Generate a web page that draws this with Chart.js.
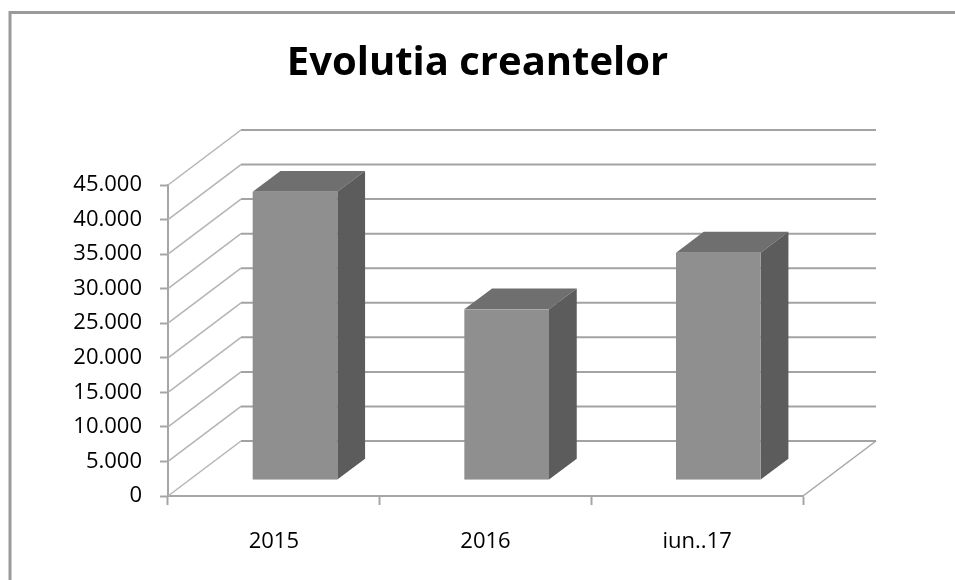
<!DOCTYPE html>
<html>
<head>
<meta charset="utf-8">
<script src="https://cdn.jsdelivr.net/npm/chart.js@4/dist/chart.umd.min.js"></script>
<style>
  html, body { margin: 0; padding: 0; background: #fff; }
  #bar-chart { display: block; }
</style>
</head>
<body>
<canvas id="bar-chart" width="955" height="580"></canvas>
<script>
var categories = ["2015", "2016", "iun..17"];
var creante = [41700, 24700, 32900];
var yTicks = [0, 5000, 10000, 15000, 20000, 25000, 30000, 35000, 40000, 45000];

var chartCanvas, barChart, chartData, chartOptions;

// depth of the 3D box (back wall offset) and where the bars sit inside it
var depth = { dx: 73, dy: -55 };
var barFront = 0.29, barBack = 0.67;

function formatNumber(v) {
  return String(v).replace(/\B(?=(\d{3})+(?!\d))/g, ".");
}

var box3d = {
  id: "box3d",
  beforeDraw: function(chart) {
    var ctx = chart.ctx;
    ctx.save();
    ctx.fillStyle = "#fff";
    ctx.fillRect(0, 0, chart.width, chart.height);
    // outer frame, only left and top visible
    ctx.strokeStyle = "#9a9a9a";
    ctx.lineWidth = 3;
    ctx.beginPath();
    ctx.moveTo(10, 580);
    ctx.lineTo(10, 12.5);
    ctx.lineTo(955, 12.5);
    ctx.stroke();
    ctx.restore();
  },
  beforeDatasetsDraw: function(chart) {
    var ctx = chart.ctx;
    var y = chart.scales.y, x = chart.scales.x;
    var left = x.left, right = x.right;
    var y0 = y.getPixelForValue(0);
    ctx.save();

    // side wall diagonals
    ctx.strokeStyle = "#b4b4b4";
    ctx.lineWidth = 1.5;
    yTicks.forEach(function(v) {
      var py = y.getPixelForValue(v);
      ctx.beginPath();
      ctx.moveTo(left, py);
      ctx.lineTo(left + depth.dx, py + depth.dy);
      ctx.stroke();
    });

    // back wall gridlines
    ctx.strokeStyle = "#a3a3a3";
    ctx.lineWidth = 2;
    yTicks.forEach(function(v) {
      var py = y.getPixelForValue(v) + depth.dy;
      ctx.beginPath();
      ctx.moveTo(left + depth.dx, py);
      ctx.lineTo(right + depth.dx, py);
      ctx.stroke();
    });

    // floor right edge
    ctx.strokeStyle = "#a6a6a6";
    ctx.lineWidth = 1.5;
    ctx.beginPath();
    ctx.moveTo(right, y0);
    ctx.lineTo(right + depth.dx, y0 + depth.dy);
    ctx.stroke();

    // bars as boxes
    var meta = chart.getDatasetMeta(0);
    meta.data.forEach(function(el) {
      var w = el.width;
      var fx = depth.dx * barFront, fy = depth.dy * barFront;
      var bx = depth.dx * barBack, by = depth.dy * barBack;
      var x1 = el.x - w / 2 + fx, x2 = el.x + w / 2 + fx;
      var top = el.y + fy, bot = el.base + fy;
      var ddx = bx - fx, ddy = by - fy;

      // top face
      ctx.fillStyle = "#6f6f6f";
      ctx.beginPath();
      ctx.moveTo(x1, top);
      ctx.lineTo(x1 + ddx, top + ddy);
      ctx.lineTo(x2 + ddx, top + ddy);
      ctx.lineTo(x2, top);
      ctx.closePath();
      ctx.fill();

      // side face
      ctx.fillStyle = "#5c5c5c";
      ctx.beginPath();
      ctx.moveTo(x2, top);
      ctx.lineTo(x2 + ddx, top + ddy);
      ctx.lineTo(x2 + ddx, bot + ddy);
      ctx.lineTo(x2, bot);
      ctx.closePath();
      ctx.fill();

      // front face
      ctx.fillStyle = "#8f8f8f";
      ctx.fillRect(x1, top, w, bot - top);
    });
    ctx.restore();
  }
};

chartData = {
  labels: categories,
  datasets: [{
    label: "Evolutia creantelor",
    data: creante,
    backgroundColor: "rgba(0,0,0,0)",
    borderWidth: 0,
    barPercentage: 0.4,
    categoryPercentage: 1.0
  }]
};

chartOptions = {
  responsive: false,
  animation: false,
  layout: { padding: 0 },
  plugins: {
    legend: { display: false },
    tooltip: { enabled: false },
    title: {
      display: true,
      text: "Evolutia creantelor",
      color: "#000",
      font: { family: "'Open Sans'", size: 40, weight: "bold", lineHeight: 1.2 },
      padding: { top: 40, bottom: 97 }
    }
  },
  scales: {
    x: {
      offset: true,
      grid: {
        offset: true,
        drawOnChartArea: false,
        tickLength: 9,
        tickColor: "#a6a6a6",
        tickWidth: 2
      },
      border: { display: true, color: "#a6a6a6", width: 2 },
      ticks: {
        color: "#000",
        font: { family: "'Open Sans'", size: 22 },
        padding: 24
      },
      afterFit: function(scale) { scale.height = 84; }
    },
    y: {
      min: 0,
      max: 45000,
      afterBuildTicks: function(scale) {
        scale.ticks = yTicks.map(function(v) { return { value: v }; });
      },
      grid: {
        drawOnChartArea: false,
        tickLength: 8,
        tickColor: "#a6a6a6",
        tickWidth: 2
      },
      border: { display: true, color: "#a6a6a6", width: 2 },
      ticks: {
        color: "#000",
        font: { family: "'Open Sans'", size: 22 },
        padding: 18,
        callback: function(v) { return formatNumber(v); }
      },
      afterFit: function(scale) { scale.width = 168; }
    },
    // empty right axis keeps room for the 3D depth so the title stays centred on the page
    yRight: {
      position: "right",
      display: true,
      grid: { display: false },
      border: { display: false },
      ticks: { display: false },
      afterFit: function(scale) { scale.width = 152; }
    }
  }
};

window.onload = function() {
  chartCanvas = document.getElementById("bar-chart");
  barChart = new Chart(chartCanvas, {
    type: "bar",
    data: chartData,
    options: chartOptions,
    plugins: [box3d]
  });
};
</script>
</body>
</html>
